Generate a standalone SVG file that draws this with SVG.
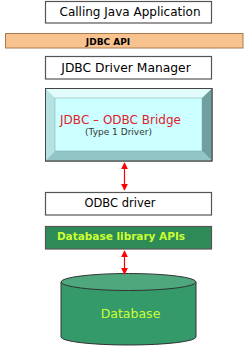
<svg xmlns="http://www.w3.org/2000/svg" width="250" height="353" viewBox="0 0 250 353">
<defs>
<marker id="ah" viewBox="0 0 10 10" refX="9" refY="5" markerWidth="6" markerHeight="6" orient="auto-start-reverse"><path d="M0,0 L10,5 L0,10 z" fill="#ff0000"/></marker>
<style>
.box{fill:#ffffff;stroke:#555555;stroke-width:1.2}
.t{font-family:"DejaVu Sans",Verdana,sans-serif;font-size:11.5px;fill:#000000;text-anchor:middle}
.conn{stroke:#ff0000;stroke-width:1.2;fill:none;marker-start:url(#ah);marker-end:url(#ah)}
</style>
</defs>
<rect width="250" height="353" fill="#ffffff"/>
<g id="calling-app">
<rect class="box" x="45.5" y="1.5" width="166" height="21.5"/>
<text class="t" x="130" y="16" style="font-size:12px">Calling Java Application</text>
</g>
<g id="jdbc-api">
<rect x="5.5" y="33.5" width="237.5" height="14.5" fill="#f9c38f" stroke="#a87a50" stroke-width="1"/>
<text class="t" x="108" y="44.5" style="font-size:9px;font-weight:bold">JDBC API</text>
</g>
<g id="driver-manager">
<rect class="box" x="45.5" y="56.5" width="166" height="22.5"/>
<text class="t" x="126" y="72" style="font-size:12.3px">JDBC Driver Manager</text>
</g>
<g id="bridge">
<rect x="45.5" y="88.5" width="166.5" height="72.5" fill="#cffcfc" stroke="#444444" stroke-width="1"/>
<polygon points="46,89 211.5,89 202,98 55,98" fill="#e2fbfb"/>
<polygon points="46,89 55,98 55,151 46,160.5" fill="#b6e2e2"/>
<polygon points="211.5,89 211.5,160.5 202,151 202,98" fill="#6f9f9f"/>
<polygon points="46,160.5 55,151 202,151 211.5,160.5" fill="#92c6c6"/>
<rect x="55" y="98" width="147" height="53" fill="#ccffff" stroke="#7aa" stroke-width="0.5"/>
<rect x="45.5" y="88.5" width="166.5" height="72.5" fill="none" stroke="#444444" stroke-width="1"/>
<text class="t" x="120.5" y="124" style="font-size:12px;fill:#e0202a">JDBC – ODBC Bridge</text>
<text class="t" x="118.5" y="135" style="font-size:9px;fill:#333333">(Type 1 Driver)</text>
</g>
<g id="odbc-driver">
<rect class="box" x="45.5" y="192.5" width="166" height="22.5"/>
<text class="t" x="120" y="206.5">ODBC driver</text>
</g>
<g id="db-lib">
<rect x="45.5" y="226.5" width="166" height="22.5" fill="#2e8b57" stroke="#555555" stroke-width="1.2"/>
<text class="t" x="121" y="240" style="font-size:10.5px;font-weight:bold;fill:#ccff33">Database library APIs</text>
</g>
<g id="database">
<path d="M61,282 L61,337 A67.5,8 0 0 0 196,337 L196,282" fill="#349a6a" stroke="#333333" stroke-width="1"/>
<ellipse cx="128.5" cy="282" rx="67.5" ry="8.5" fill="#4fa87d" stroke="#333333" stroke-width="1"/>
<text class="t" x="130.5" y="317.5" style="font-size:12.5px;fill:#ccff33">Database</text>
</g>
<g id="connectors">
<line class="conn" x1="124.5" y1="163" x2="124.5" y2="190"/>
<line class="conn" x1="124.5" y1="251" x2="124.5" y2="274"/>
</g>
</svg>
